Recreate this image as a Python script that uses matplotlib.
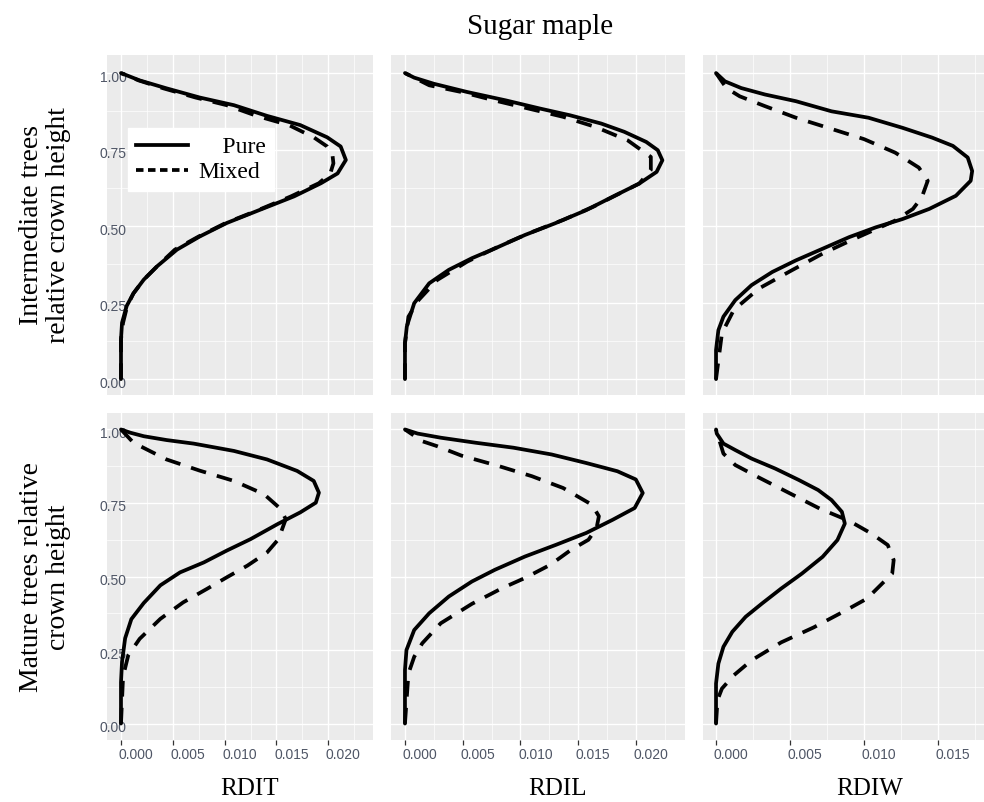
import matplotlib
matplotlib.use("Agg")
import matplotlib.pyplot as plt
from matplotlib.ticker import MultipleLocator
from matplotlib.transforms import ScaledTranslation
from matplotlib.lines import Line2D

# ---- data: relative crown height (y) vs density (x) ----
# RDIT, intermediate trees
rdit_int_pure_y = [0, 0.13, 0.184, 0.239, 0.28, 0.325, 0.369, 0.423, 0.466, 0.51, 0.553, 0.597,
                   0.64, 0.672, 0.716, 0.76, 0.79, 0.83, 0.86, 0.895, 0.92, 0.95, 0.976, 1.0]
rdit_int_pure_x = [0, 0, 0.0001, 0.00055, 0.0012, 0.0022, 0.0035, 0.0054, 0.0076, 0.0102, 0.0134, 0.0167,
                   0.0193, 0.0209, 0.0217, 0.0212, 0.0199, 0.0173, 0.0141, 0.0109, 0.0076, 0.0044, 0.0018, 0]
rdit_int_mixed_y = [0, 0.13, 0.184, 0.239, 0.28, 0.325, 0.369, 0.423, 0.466, 0.51, 0.553, 0.597, 0.64,
                    0.672, 0.705, 0.735, 0.76, 0.79, 0.83, 0.86, 0.895, 0.92, 0.95, 0.976, 1.0]
rdit_int_mixed_x = [0, 0, 0.0002, 0.0006, 0.0012, 0.0022, 0.0035, 0.0052, 0.0075, 0.0101, 0.0133, 0.0164, 0.0191,
                    0.0202, 0.0205, 0.0204, 0.0199, 0.0186, 0.0162, 0.0131, 0.0102, 0.0072, 0.0041, 0.0017, 0]

# RDIT, mature trees
rdit_mat_pure_y = [0, 0.14, 0.21, 0.29, 0.355, 0.41, 0.47, 0.514, 0.548, 0.588, 0.627, 0.678, 0.718,
                   0.751, 0.785, 0.825, 0.859, 0.898, 0.927, 0.952, 0.964, 0.977, 0.989, 1.0]
rdit_mat_pure_x = [0, 0, 0.0001, 0.0004, 0.001, 0.0022, 0.0038, 0.0057, 0.008, 0.0102, 0.0125, 0.0151, 0.0173,
                   0.0188, 0.0191, 0.0186, 0.017, 0.0141, 0.0109, 0.007, 0.0044, 0.0022, 0.0009, 0]
rdit_mat_mixed_y = [0, 0.16, 0.232, 0.288, 0.356, 0.412, 0.458, 0.497, 0.537, 0.582, 0.627, 0.695,
                    0.73, 0.78, 0.825, 0.86, 0.898, 0.955, 1.0]
rdit_mat_mixed_x = [0, 0.0002, 0.0007, 0.0018, 0.0038, 0.006, 0.0083, 0.0102, 0.0122, 0.0141, 0.0152, 0.0159,
                    0.0154, 0.0138, 0.0109, 0.0076, 0.0044, 0.0012, 0]

# RDIL, intermediate trees
rdil_int_pure_y = [0, 0.117, 0.172, 0.248, 0.313, 0.357, 0.395, 0.427, 0.471, 0.509, 0.552, 0.596, 0.639,
                   0.677, 0.715, 0.748, 0.775, 0.808, 0.835, 0.862, 0.884, 0.911, 0.938, 0.965, 0.985, 1.0]
rdil_int_pure_x = [0, 0, 0.00016, 0.0008, 0.0021, 0.0038, 0.0058, 0.0078, 0.0104, 0.013, 0.0157, 0.018, 0.0203,
                   0.0218, 0.0223, 0.0219, 0.0209, 0.019, 0.017, 0.0143, 0.0117, 0.0087, 0.0054, 0.0025, 0.0008, 0]
rdil_int_mixed_y = [0, 0.117, 0.204, 0.259, 0.324, 0.384, 0.433, 0.476, 0.52, 0.563, 0.639, 0.683, 0.726,
                    0.78, 0.824, 0.857, 0.884, 0.911, 0.938, 0.96, 1.0]
rdil_int_mixed_x = [0, 0, 0.0003, 0.0012, 0.0028, 0.0054, 0.0081, 0.0107, 0.0137, 0.0163, 0.0203, 0.0213, 0.0213,
                    0.0193, 0.0165, 0.0137, 0.0107, 0.0077, 0.0049, 0.0021, 0]

# RDIL, mature trees
rdil_mat_pure_y = [0, 0.182, 0.25, 0.318, 0.375, 0.432, 0.483, 0.523, 0.568, 0.608, 0.648, 0.693, 0.733,
                   0.784, 0.83, 0.858, 0.886, 0.915, 0.938, 0.955, 0.972, 0.986, 1.0]
rdil_mat_pure_x = [0, 0, 0.00013, 0.0008, 0.0021, 0.0038, 0.0058, 0.0078, 0.0104, 0.0131, 0.0157, 0.018, 0.0199,
                   0.0206, 0.02, 0.0184, 0.0157, 0.0127, 0.0094, 0.0061, 0.0031, 0.0011, 0]
rdil_mat_mixed_y = [0, 0.17, 0.227, 0.273, 0.341, 0.407, 0.46, 0.495, 0.54, 0.591, 0.625, 0.665, 0.705,
                    0.744, 0.801, 0.841, 0.877, 0.911, 0.943, 0.96, 1.0]
rdil_mat_mixed_x = [0, 0.0003, 0.0008, 0.0015, 0.0031, 0.0058, 0.0084, 0.0104, 0.0126, 0.0144, 0.0159, 0.0166, 0.0168,
                    0.0162, 0.0137, 0.011, 0.008, 0.0049, 0.0028, 0.0015, 0]

# RDIW, intermediate trees
rdiw_int_pure_y = [0, 0.095, 0.16, 0.204, 0.258, 0.307, 0.35, 0.388, 0.426, 0.464, 0.496, 0.523, 0.556, 0.599,
                   0.648, 0.68, 0.724, 0.762, 0.789, 0.821, 0.854, 0.875, 0.908, 0.93, 0.951, 0.973, 1.0]
rdiw_int_pure_x = [0, 0, 0.00016, 0.0005, 0.0013, 0.0024, 0.0038, 0.0054, 0.0072, 0.009, 0.0108, 0.0126, 0.0144, 0.0162,
                   0.0172, 0.0173, 0.017, 0.016, 0.0146, 0.0126, 0.0103, 0.0078, 0.0054, 0.0033, 0.0017, 0.0006, 0]
rdiw_int_mixed_y = [0, 0.15, 0.226, 0.296, 0.355, 0.41, 0.453, 0.518, 0.556, 0.594, 0.648, 0.691, 0.74,
                    0.784, 0.819, 0.854, 0.892, 0.924, 0.951, 1.0]
rdiw_int_mixed_x = [0, 0.0004, 0.0012, 0.0029, 0.0051, 0.0072, 0.0091, 0.0121, 0.0133, 0.0139, 0.0143, 0.0137, 0.0121,
                    0.01, 0.0077, 0.0054, 0.0033, 0.0016, 0.0007, 0]

# RDIW, mature trees
rdiw_mat_pure_y = [0, 0.136, 0.204, 0.261, 0.312, 0.363, 0.408, 0.459, 0.51, 0.567, 0.624, 0.68, 0.72,
                   0.76, 0.794, 0.828, 0.867, 0.901, 0.93, 0.952, 0.986, 1.0]
rdiw_mat_pure_x = [0, 0, 0.00016, 0.0005, 0.0011, 0.002, 0.0031, 0.0044, 0.0058, 0.0072, 0.0082, 0.0087, 0.0085,
                   0.0078, 0.0069, 0.0056, 0.004, 0.0024, 0.0013, 0.0005, 0.00005, 0]
rdiw_mat_mixed_y = [0, 0.08, 0.119, 0.164, 0.215, 0.276, 0.327, 0.383, 0.425, 0.465, 0.51, 0.556, 0.607,
                    0.646, 0.689, 0.731, 0.785, 0.839, 0.879, 0.918, 1.0]
rdiw_mat_mixed_x = [0, 0.0001, 0.0004, 0.0012, 0.0024, 0.0044, 0.0066, 0.0087, 0.0102, 0.011, 0.0119, 0.012, 0.0116,
                    0.0105, 0.009, 0.007, 0.0049, 0.0028, 0.0013, 0.0005, 0]

measures = ["RDIT", "RDIL", "RDIW"]
row_labels = ["Intermediate trees\nrelative crown height", "Mature trees relative\ncrown height"]
x_ticks = [[0, 0.005, 0.010, 0.015, 0.020], [0, 0.005, 0.010, 0.015, 0.020], [0, 0.005, 0.010, 0.015]]
y_ticks = [0, 0.25, 0.50, 0.75, 1.00]

curves = [
    [(rdit_int_pure_x, rdit_int_pure_y, rdit_int_mixed_x, rdit_int_mixed_y),
     (rdil_int_pure_x, rdil_int_pure_y, rdil_int_mixed_x, rdil_int_mixed_y),
     (rdiw_int_pure_x, rdiw_int_pure_y, rdiw_int_mixed_x, rdiw_int_mixed_y)],
    [(rdit_mat_pure_x, rdit_mat_pure_y, rdit_mat_mixed_x, rdit_mat_mixed_y),
     (rdil_mat_pure_x, rdil_mat_pure_y, rdil_mat_mixed_x, rdil_mat_mixed_y),
     (rdiw_mat_pure_x, rdiw_mat_pure_y, rdiw_mat_mixed_x, rdiw_mat_mixed_y)],
]

# ---- layout (pixels of the 984x802 canvas) ----
W, H = 984, 802
col_px = [(107, 373), (391, 685), (703, 984)]
row_px = [(55, 395), (413, 740)]
xlims = [(-0.00135, 0.02432), (-0.00121, 0.02426), (-0.00088, 0.0181)]
ylims = [(-0.052, 1.059), (-0.056, 1.056)]

SERIF = ["Liberation Serif", "DejaVu Serif"]
TICK_FONT = ["Liberation Sans Narrow", "Liberation Sans", "DejaVu Sans"]
TICK_COLOR = "#4f5666"
LW = 2.7

fig = plt.figure(figsize=(W / 100, H / 100), dpi=100)

for r in range(2):
    for c in range(3):
        x0, x1 = col_px[c]
        y0, y1 = row_px[r]
        ax = fig.add_axes([x0 / W, 1 - y1 / H, (x1 - x0) / W, (y1 - y0) / H])
        ax.set_facecolor("#ebebeb")
        for s in ax.spines.values():
            s.set_visible(False)
        ax.set_axisbelow(True)

        px, py, mx, my = curves[r][c]
        ax.plot(px, py, color="black", lw=LW, solid_capstyle="round", solid_joinstyle="round")
        ax.plot(mx, my, color="black", lw=LW, linestyle=(0, (4.2, 3.0)), dash_capstyle="butt")

        ax.set_xlim(*xlims[c])
        ax.set_ylim(*ylims[r])
        ax.set_xticks(x_ticks[c])
        ax.set_yticks(y_ticks)
        ax.xaxis.set_minor_locator(MultipleLocator(0.0025))
        ax.yaxis.set_minor_locator(MultipleLocator(0.125))
        ax.grid(which="major", color="white", lw=1.0)
        ax.grid(which="minor", color="white", lw=0.5)
        ax.tick_params(which="minor", length=0)

        if r == 1:
            ax.set_xticklabels(["%.3f" % v for v in x_ticks[c]])
            ax.tick_params(axis="x", length=3.5, width=0.9, color="#333333",
                           labelsize=10, labelcolor=TICK_COLOR, pad=2)
            off = ScaledTranslation(15 / 100, 0, fig.dpi_scale_trans)
            for lab in ax.get_xticklabels():
                lab.set_fontfamily(TICK_FONT)
                lab.set_transform(lab.get_transform() + off)
        else:
            ax.tick_params(axis="x", length=0, labelbottom=False)

        if c == 0:
            ax.set_yticklabels(["%.2f" % v for v in y_ticks])
            ax.tick_params(axis="y", length=0, labelsize=10, labelcolor=TICK_COLOR, pad=0)
            off = ScaledTranslation(20 / 100, -3 / 100, fig.dpi_scale_trans)
            for lab in ax.get_yticklabels():
                lab.set_fontfamily(TICK_FONT)
                lab.set_transform(lab.get_transform() + off)
        else:
            ax.tick_params(axis="y", length=0, labelleft=False)

        if r == 0 and c == 0:
            handles = [Line2D([], [], color="black", lw=LW),
                       Line2D([], [], color="black", lw=LW, linestyle=(0, (2.0, 1.2)))]
            leg = ax.legend(handles, ["    Pure", "Mixed"], loc="upper left",
                            bbox_to_anchor=((128 - x0) / (x1 - x0), (y1 - 128) / (y1 - y0)),
                            borderaxespad=0, frameon=True, fancybox=False, framealpha=1,
                            facecolor="white", edgecolor="white", handlelength=2.2,
                            handletextpad=0.45, borderpad=0.35, labelspacing=0.15,
                            prop={"family": SERIF, "size": 17})

fig.text(540 / W, 1 - 27 / H, "Sugar maple", ha="center", va="center",
         fontsize=21, family=SERIF)
for c, name in enumerate(measures):
    cx = [250, 557, 870][c]
    fig.text(cx / W, 1 - 795 / H, name, ha="center", va="baseline", fontsize=18, family=SERIF)
for r, lab in enumerate(row_labels):
    cy = [225, 577][r]
    fig.text(45 / W, 1 - cy / H, lab, ha="center", va="center", rotation=90,
             fontsize=20, family=SERIF, linespacing=1.15)

fig.savefig("out.png", dpi=100)
